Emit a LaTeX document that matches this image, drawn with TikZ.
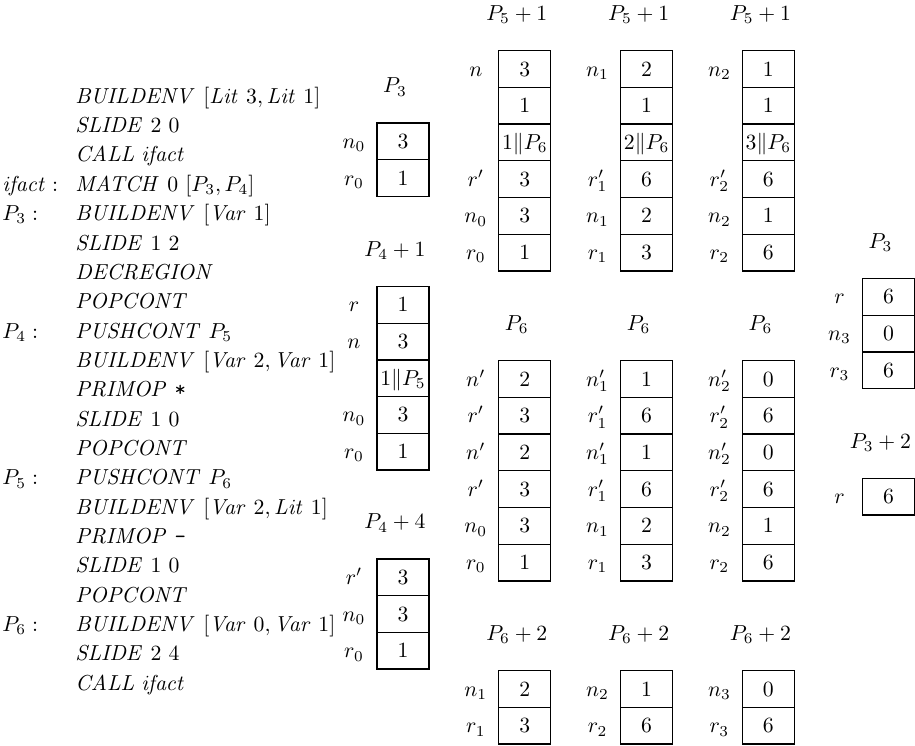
\documentclass[tikz,border=0pt]{standalone}
\def\pxu{0.4608pt}
\tikzset{
  cell/.style={draw, line width=0.6pt, inner sep=0pt, outer sep=0pt,
    minimum width={52*\pxu}, minimum height={36.7*\pxu},
    text height=6.5pt, text depth=0pt, anchor=center},
  lbl/.style={inner sep=0pt, text height=6.5pt, text depth=0pt, anchor=center},
  ttl/.style={inner sep=0pt, anchor=base},
  code/.style={inner sep=0pt, anchor=base west},
}
\newcommand{\memstack}[5]{%
  \node[ttl] (#1-t) at ({#2+18},{#3-30}) {$#4$};
  \foreach [count=\i] \lab/\val in {#5} {
    \node[cell] (#1-\i) at ({#2+26},{#3+36.7*(\i-0.5)}) {$\val$};
    \node[lbl] (#1-l\i) at ({#2-23},{#3+36.7*(\i-0.5)}) {$\lab$};
  }%
}
\newcommand{\codeline}[3]{%
  \node[code] (c#1) at (75,{103.3+29.35*(#1-1)}) {$#3$};
  \node[code] (k#1) at (2,{103.3+29.35*(#1-1)}) {$#2$};
}
\begin{document}
\begin{tikzpicture}[x={(\pxu,0)}, y={(0,-\pxu)}]
\useasboundingbox[fill=white] (0,0) rectangle (915,746);
% program
\codeline{1}{}{\mathit{BUILDENV}\ [\mathit{Lit}\ 3, \mathit{Lit}\ 1]}
\codeline{2}{}{\mathit{SLIDE}\ 2\ 0}
\codeline{3}{}{\mathit{CALL}\ \mathit{ifact}}
\codeline{4}{\mathit{ifact}:}{\mathit{MATCH}\ 0\ [P_3, P_4]}
\codeline{5}{P_3:}{\mathit{BUILDENV}\ [\mathit{Var}\ 1]}
\codeline{6}{}{\mathit{SLIDE}\ 1\ 2}
\codeline{7}{}{\mathit{DECREGION}}
\codeline{8}{}{\mathit{POPCONT}}
\codeline{9}{P_4:}{\mathit{PUSHCONT}\ P_5}
\codeline{10}{}{\mathit{BUILDENV}\ [\mathit{Var}\ 2, \mathit{Var}\ 1]}
\codeline{11}{}{\mathit{PRIMOP}\ \texttt{*}}
\codeline{12}{}{\mathit{SLIDE}\ 1\ 0}
\codeline{13}{}{\mathit{POPCONT}}
\codeline{14}{P_5:}{\mathit{PUSHCONT}\ P_6}
\codeline{15}{}{\mathit{BUILDENV}\ [\mathit{Var}\ 2, \mathit{Lit}\ 1]}
\codeline{16}{}{\mathit{PRIMOP}\ \texttt{-}}
\codeline{17}{}{\mathit{SLIDE}\ 1\ 0}
\codeline{18}{}{\mathit{POPCONT}}
\codeline{19}{P_6:}{\mathit{BUILDENV}\ [\mathit{Var}\ 0, \mathit{Var}\ 1]}
\codeline{20}{}{\mathit{SLIDE}\ 2\ 4}
\codeline{21}{}{\mathit{CALL}\ \mathit{ifact}}
% column A
\memstack{A1}{377}{123}{P_3}{n_0/3, r_0/1}
\memstack{A2}{377}{286.5}{P_4+1}{r/1, n/3, /1\|P_5, n_0/3, r_0/1}
\memstack{A3}{377}{559}{P_4+4}{r'/3, n_0/3, r_0/1}
% columns B, C, D
\memstack{B1}{498.8}{50.7}{P_5+1}{n/3, /1, /1\|P_6, r'/3, n_0/3, r_0/1}
\memstack{C1}{620.6}{50.7}{P_5+1}{n_1/2, /1, /2\|P_6, r'_1/6, n_1/2, r_1/3}
\memstack{D1}{742.4}{50.7}{P_5+1}{n_2/1, /1, /3\|P_6, r'_2/6, n_2/1, r_2/6}
\memstack{B2}{498.8}{360.7}{P_6}{n'/2, r'/3, n'/2, r'/3, n_0/3, r_0/1}
\memstack{C2}{620.6}{360.7}{P_6}{n'_1/1, r'_1/6, n'_1/1, r'_1/6, n_1/2, r_1/3}
\memstack{D2}{742.4}{360.7}{P_6}{n'_2/0, r'_2/6, n'_2/0, r'_2/6, n_2/1, r_2/6}
\memstack{B3}{498.8}{670.7}{P_6+2}{n_1/2, r_1/3}
\memstack{C3}{620.6}{670.7}{P_6+2}{n_2/1, r_2/6}
\memstack{D3}{742.4}{670.7}{P_6+2}{n_3/0, r_3/6}
% column E
\memstack{E1}{862.5}{278.5}{P_3}{r/6, n_3/0, r_3/6}
\memstack{E2}{862.5}{478.3}{P_3+2}{r/6}
\end{tikzpicture}
\end{document}
